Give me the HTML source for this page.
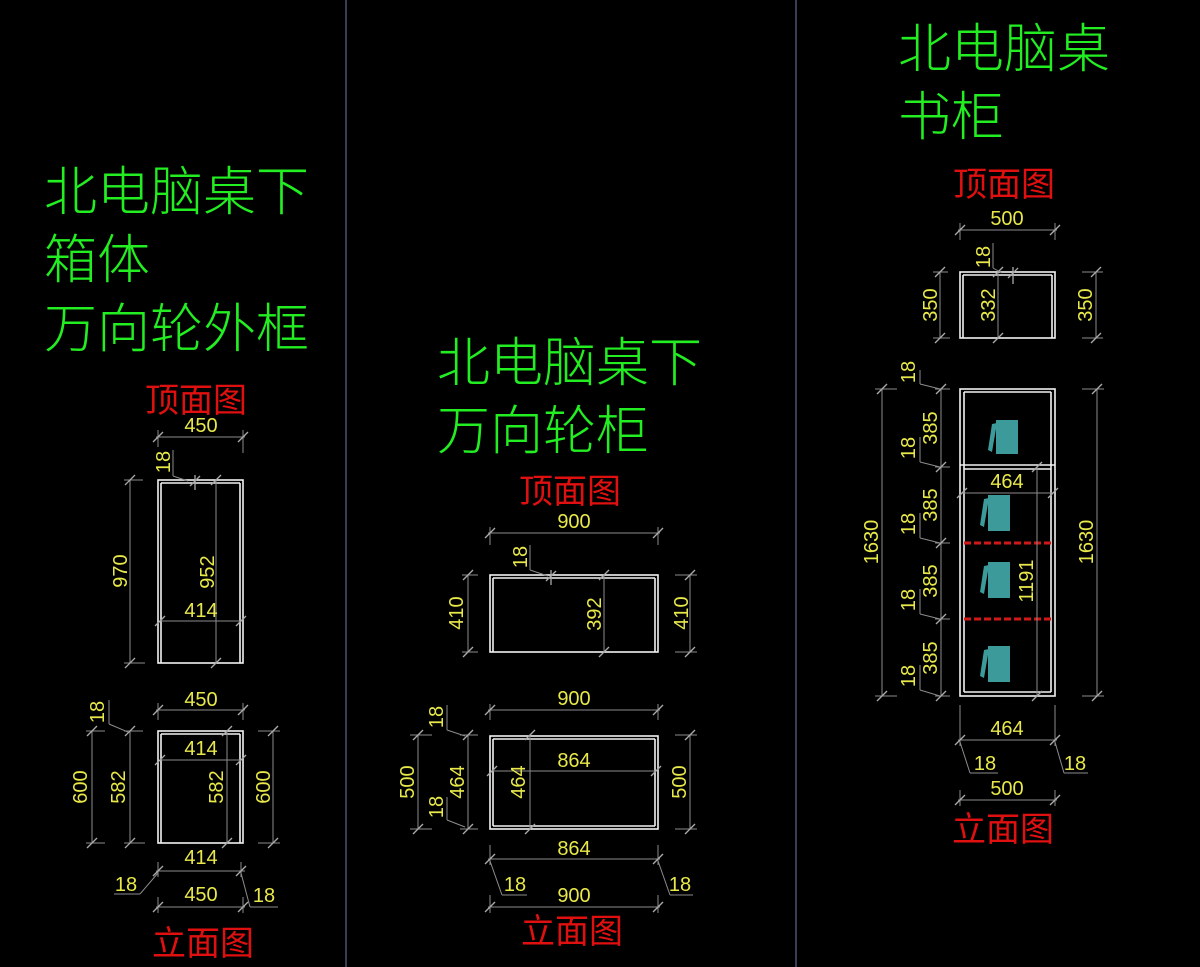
<!DOCTYPE html>
<html><head><meta charset="utf-8"><style>
html,body{margin:0;padding:0;background:#000;}
svg{display:block}
.d{stroke:#8c8c8c;stroke-width:1;fill:none}
.t{stroke:#aaa;stroke-width:1.3}
.w{stroke:#f2f2f2;stroke-width:1.6;fill:none}
.y{fill:#e8e84a;font-family:"Liberation Sans",sans-serif;font-size:20px;text-anchor:middle}
.g{fill:#22ee22;font-family:"Liberation Sans","Noto Sans CJK SC",sans-serif;font-size:53px;font-weight:300}
.r{fill:#e01010;font-family:"Liberation Sans","Noto Sans CJK SC",sans-serif;font-size:34px;text-anchor:middle}
.rd{stroke:#d01818;stroke-width:3;stroke-dasharray:7,3}
.bk{fill:#3c9a9a}
</style></head><body>
<svg width="1200" height="967" viewBox="0 0 1200 967" xmlns="http://www.w3.org/2000/svg">
<rect width="1200" height="967" fill="#000"/>
<line x1="346" y1="0" x2="346" y2="967" stroke="#4a5470" stroke-width="1.5"/>
<line x1="796" y1="0" x2="796" y2="967" stroke="#4a5470" stroke-width="1.5"/>

<!-- LEFT PANEL -->
<text class="g" x="44" y="210">北电脑桌下</text>
<text class="g" x="44" y="278">箱体</text>
<text class="g" x="44" y="347">万向轮外框</text>
<text class="r" x="196" y="412">顶面图</text>

<rect class="w" x="158" y="480" width="85" height="183"/>
<line class="w" x1="161" y1="483" x2="240" y2="483"/>
<line class="w" x1="161" y1="483" x2="161" y2="663"/>
<line class="w" x1="240" y1="483" x2="240" y2="663"/>
<g class="d">
<line x1="156" y1="437" x2="245" y2="437"/><line x1="158" y1="430" x2="158" y2="447"/><line x1="243" y1="430" x2="243" y2="453"/>
<line x1="130" y1="480" x2="130" y2="663"/><line x1="124" y1="480" x2="143" y2="480"/><line x1="124" y1="663" x2="145" y2="663"/>
<line x1="216" y1="480" x2="216" y2="663"/>
<line x1="160" y1="621" x2="241" y2="621"/>
<line x1="173" y1="450" x2="173" y2="476" /><line x1="173" y1="476" x2="188" y2="481"/>
</g>
<g class="t">
<line x1="153" y1="442" x2="163" y2="432"/><line x1="238" y1="442" x2="248" y2="432"/>
<line x1="125" y1="485" x2="135" y2="475"/><line x1="125" y1="668" x2="135" y2="658"/>
<line x1="190" y1="486" x2="200" y2="476"/><line x1="195" y1="475" x2="195" y2="490"/>
<line x1="211" y1="668" x2="221" y2="658"/><line x1="211" y1="485" x2="221" y2="475"/>
<line x1="155" y1="626" x2="165" y2="616"/><line x1="236" y1="626" x2="246" y2="616"/>
</g>
<text class="y" x="201" y="432">450</text>
<text class="y" transform="translate(127,571) rotate(-90)">970</text>
<text class="y" transform="translate(214,572) rotate(-90)">952</text>
<text class="y" x="201" y="617">414</text>
<text class="y" transform="translate(170,462) rotate(-90)">18</text>

<rect class="w" x="158" y="731" width="85" height="112"/>
<line class="w" x1="161" y1="734" x2="240" y2="734"/>
<line class="w" x1="161" y1="734" x2="161" y2="843"/>
<line class="w" x1="240" y1="734" x2="240" y2="843"/>
<g class="d">
<line x1="156" y1="710" x2="245" y2="710"/><line x1="158" y1="703" x2="158" y2="720"/><line x1="243" y1="703" x2="243" y2="720"/>
<line x1="160" y1="760" x2="241" y2="760"/>
<line x1="92" y1="731" x2="92" y2="843"/><line x1="86" y1="731" x2="105" y2="731"/><line x1="86" y1="843" x2="105" y2="843"/>
<line x1="130" y1="731" x2="130" y2="843"/><line x1="124" y1="731" x2="143" y2="731"/><line x1="124" y1="843" x2="145" y2="843"/>
<line x1="227" y1="731" x2="227" y2="843"/>
<line x1="273" y1="731" x2="273" y2="843"/><line x1="258" y1="731" x2="280" y2="731"/><line x1="258" y1="843" x2="280" y2="843"/>
<line x1="156" y1="871" x2="245" y2="871"/><line x1="158" y1="862" x2="158" y2="877"/><line x1="241" y1="862" x2="241" y2="877"/>
<line x1="156" y1="907" x2="245" y2="907"/><line x1="158" y1="897" x2="158" y2="913"/><line x1="243" y1="897" x2="243" y2="913"/>
<line x1="109" y1="700" x2="109" y2="724"/><line x1="109" y1="724" x2="128" y2="732"/>
<line x1="114" y1="894" x2="140" y2="894"/><line x1="140" y1="894" x2="158" y2="873"/>
<line x1="241" y1="873" x2="250" y2="907"/><line x1="250" y1="907" x2="278" y2="907"/>
</g>
<g class="t">
<line x1="153" y1="715" x2="163" y2="705"/><line x1="238" y1="715" x2="248" y2="705"/>
<line x1="155" y1="765" x2="165" y2="755"/><line x1="236" y1="765" x2="246" y2="755"/>
<line x1="87" y1="736" x2="97" y2="726"/><line x1="87" y1="848" x2="97" y2="838"/>
<line x1="125" y1="736" x2="135" y2="726"/><line x1="125" y1="848" x2="135" y2="838"/>
<line x1="222" y1="736" x2="232" y2="726"/><line x1="222" y1="848" x2="232" y2="838"/>
<line x1="268" y1="736" x2="278" y2="726"/><line x1="268" y1="848" x2="278" y2="838"/>
<line x1="153" y1="876" x2="163" y2="866"/><line x1="236" y1="876" x2="246" y2="866"/>
<line x1="153" y1="912" x2="163" y2="902"/><line x1="238" y1="912" x2="248" y2="902"/>
</g>
<text class="y" x="201" y="706">450</text>
<text class="y" x="201" y="755">414</text>
<text class="y" transform="translate(87,787) rotate(-90)">600</text>
<text class="y" transform="translate(125,787) rotate(-90)">582</text>
<text class="y" transform="translate(223,787) rotate(-90)">582</text>
<text class="y" transform="translate(270,787) rotate(-90)">600</text>
<text class="y" transform="translate(104,712) rotate(-90)">18</text>
<text class="y" x="201" y="864">414</text>
<text class="y" x="201" y="901">450</text>
<text class="y" x="126" y="891">18</text>
<text class="y" x="264" y="902">18</text>
<text class="r" x="203" y="955">立面图</text>

<!-- MIDDLE PANEL -->
<text class="g" x="437" y="381">北电脑桌下</text>
<text class="g" x="437" y="449">万向轮柜</text>
<text class="r" x="570" y="503">顶面图</text>

<rect class="w" x="490" y="575" width="168" height="77"/>
<line class="w" x1="493" y1="578" x2="655" y2="578"/>
<line class="w" x1="493" y1="578" x2="493" y2="652"/>
<line class="w" x1="655" y1="578" x2="655" y2="652"/>
<g class="d">
<line x1="488" y1="533" x2="660" y2="533"/><line x1="490" y1="527" x2="490" y2="545"/><line x1="658" y1="527" x2="658" y2="545"/>
<line x1="468" y1="575" x2="468" y2="652"/><line x1="462" y1="575" x2="478" y2="575"/><line x1="462" y1="652" x2="478" y2="652"/>
<line x1="604" y1="575" x2="604" y2="652"/>
<line x1="690" y1="575" x2="690" y2="652"/><line x1="675" y1="575" x2="697" y2="575"/><line x1="675" y1="652" x2="697" y2="652"/>
<line x1="530" y1="545" x2="530" y2="570"/><line x1="530" y1="570" x2="548" y2="576"/>
</g>
<g class="t">
<line x1="485" y1="538" x2="495" y2="528"/><line x1="653" y1="538" x2="663" y2="528"/>
<line x1="463" y1="580" x2="473" y2="570"/><line x1="463" y1="657" x2="473" y2="647"/>
<line x1="599" y1="580" x2="609" y2="570"/><line x1="599" y1="657" x2="609" y2="647"/>
<line x1="685" y1="580" x2="695" y2="570"/><line x1="685" y1="657" x2="695" y2="647"/>
<line x1="546" y1="581" x2="556" y2="571"/><line x1="551" y1="570" x2="551" y2="585"/>
</g>
<text class="y" x="574" y="528">900</text>
<text class="y" transform="translate(463,613) rotate(-90)">410</text>
<text class="y" transform="translate(601,614) rotate(-90)">392</text>
<text class="y" transform="translate(688,613) rotate(-90)">410</text>
<text class="y" transform="translate(527,557) rotate(-90)">18</text>

<rect class="w" x="490" y="736" width="168" height="93"/>
<line class="w" x1="493" y1="739" x2="655" y2="739"/>
<line class="w" x1="493" y1="826" x2="655" y2="826"/>
<line class="w" x1="493" y1="739" x2="493" y2="826"/>
<line class="w" x1="655" y1="739" x2="655" y2="826"/>
<g class="d">
<line x1="488" y1="710" x2="660" y2="710"/><line x1="490" y1="704" x2="490" y2="720"/><line x1="658" y1="704" x2="658" y2="720"/>
<line x1="492" y1="771" x2="656" y2="771"/>
<line x1="418" y1="735" x2="418" y2="829"/><line x1="410" y1="735" x2="432" y2="735"/><line x1="410" y1="829" x2="432" y2="829"/>
<line x1="468" y1="735" x2="468" y2="829"/><line x1="460" y1="735" x2="478" y2="735"/><line x1="460" y1="829" x2="478" y2="829"/>
<line x1="530" y1="735" x2="530" y2="829"/>
<line x1="690" y1="735" x2="690" y2="829"/><line x1="675" y1="735" x2="697" y2="735"/><line x1="675" y1="829" x2="697" y2="829"/>
<line x1="447" y1="705" x2="447" y2="730"/><line x1="447" y1="730" x2="465" y2="736"/>
<line x1="447" y1="797" x2="447" y2="820"/><line x1="447" y1="820" x2="465" y2="827"/>
<line x1="488" y1="859" x2="660" y2="859"/><line x1="490" y1="845" x2="490" y2="865"/><line x1="658" y1="845" x2="658" y2="865"/>
<line x1="488" y1="907" x2="660" y2="907"/><line x1="490" y1="895" x2="490" y2="913"/><line x1="658" y1="895" x2="658" y2="913"/>
<line x1="490" y1="861" x2="502" y2="895"/><line x1="502" y1="895" x2="527" y2="895"/>
<line x1="658" y1="861" x2="670" y2="895"/><line x1="670" y1="895" x2="693" y2="895"/>
</g>
<g class="t">
<line x1="485" y1="715" x2="495" y2="705"/><line x1="653" y1="715" x2="663" y2="705"/>
<line x1="487" y1="776" x2="497" y2="766"/><line x1="651" y1="776" x2="661" y2="766"/>
<line x1="413" y1="740" x2="423" y2="730"/><line x1="413" y1="834" x2="423" y2="824"/>
<line x1="463" y1="740" x2="473" y2="730"/><line x1="463" y1="834" x2="473" y2="824"/>
<line x1="525" y1="740" x2="535" y2="730"/><line x1="525" y1="834" x2="535" y2="824"/>
<line x1="685" y1="740" x2="695" y2="730"/><line x1="685" y1="834" x2="695" y2="824"/>
<line x1="485" y1="864" x2="495" y2="854"/><line x1="653" y1="864" x2="663" y2="854"/>
<line x1="485" y1="912" x2="495" y2="902"/><line x1="653" y1="912" x2="663" y2="902"/>
</g>
<text class="y" x="574" y="705">900</text>
<text class="y" x="574" y="767">864</text>
<text class="y" transform="translate(414,782) rotate(-90)">500</text>
<text class="y" transform="translate(464,782) rotate(-90)">464</text>
<text class="y" transform="translate(525,782) rotate(-90)">464</text>
<text class="y" transform="translate(686,782) rotate(-90)">500</text>
<text class="y" transform="translate(443,717) rotate(-90)">18</text>
<text class="y" transform="translate(443,807) rotate(-90)">18</text>
<text class="y" x="574" y="855">864</text>
<text class="y" x="574" y="902">900</text>
<text class="y" x="515" y="891">18</text>
<text class="y" x="680" y="891">18</text>
<text class="r" x="572" y="943">立面图</text>

<!-- RIGHT PANEL -->
<text class="g" x="898" y="67">北电脑桌</text>
<text class="g" x="898" y="135">书柜</text>
<text class="r" x="1004" y="196">顶面图</text>

<rect class="w" x="960" y="272" width="95" height="66"/>
<line class="w" x1="963" y1="275" x2="1052" y2="275"/>
<line class="w" x1="963" y1="275" x2="963" y2="338"/>
<line class="w" x1="1052" y1="275" x2="1052" y2="338"/>
<g class="d">
<line x1="958" y1="230" x2="1057" y2="230"/><line x1="960" y1="223" x2="960" y2="240"/><line x1="1055" y1="223" x2="1055" y2="240"/>
<line x1="940" y1="272" x2="940" y2="338"/><line x1="933" y1="272" x2="948" y2="272"/><line x1="933" y1="338" x2="950" y2="338"/>
<line x1="998" y1="272" x2="998" y2="338"/>
<line x1="1096" y1="272" x2="1096" y2="338"/><line x1="1082" y1="272" x2="1103" y2="272"/><line x1="1082" y1="338" x2="1103" y2="338"/>
<line x1="993" y1="243" x2="993" y2="268"/><line x1="993" y1="268" x2="1002" y2="273"/>
</g>
<g class="t">
<line x1="955" y1="235" x2="965" y2="225"/><line x1="1050" y1="235" x2="1060" y2="225"/>
<line x1="935" y1="277" x2="945" y2="267"/><line x1="935" y1="343" x2="945" y2="333"/>
<line x1="993" y1="277" x2="1003" y2="267"/><line x1="993" y1="343" x2="1003" y2="333"/>
<line x1="1091" y1="277" x2="1101" y2="267"/><line x1="1091" y1="343" x2="1101" y2="333"/>
<line x1="1008" y1="278" x2="1018" y2="268"/><line x1="1013" y1="267" x2="1013" y2="284"/>
</g>
<text class="y" x="1007" y="225">500</text>
<text class="y" transform="translate(937,305) rotate(-90)">350</text>
<text class="y" transform="translate(995,305) rotate(-90)">332</text>
<text class="y" transform="translate(1092,305) rotate(-90)">350</text>
<text class="y" transform="translate(990,257) rotate(-90)">18</text>

<rect class="w" x="960" y="389" width="95" height="307"/>
<line class="w" x1="964" y1="392" x2="1051" y2="392"/>
<line class="w" x1="964" y1="692" x2="1051" y2="692"/>
<line class="w" x1="964" y1="392" x2="964" y2="692"/>
<line class="w" x1="1051" y1="392" x2="1051" y2="692"/>
<line class="w" x1="960" y1="465" x2="1055" y2="465"/>
<line class="w" x1="964" y1="469" x2="1051" y2="469"/>
<line class="rd" x1="964" y1="543" x2="1051" y2="543"/>
<line class="rd" x1="964" y1="619" x2="1051" y2="619"/>
<g class="d">
<line x1="882" y1="389" x2="882" y2="696"/><line x1="875" y1="389" x2="897" y2="389"/><line x1="875" y1="696" x2="897" y2="696"/>
<line x1="941" y1="389" x2="941" y2="696"/>
<line x1="935" y1="389" x2="950" y2="389"/><line x1="935" y1="467" x2="950" y2="467"/><line x1="935" y1="543" x2="950" y2="543"/><line x1="935" y1="619" x2="950" y2="619"/><line x1="935" y1="696" x2="950" y2="696"/>
<line x1="1097" y1="389" x2="1097" y2="696"/><line x1="1082" y1="389" x2="1104" y2="389"/><line x1="1082" y1="696" x2="1104" y2="696"/>
<line x1="962" y1="493" x2="1053" y2="493"/>
<line x1="1037" y1="467" x2="1037" y2="696"/>
<line x1="920" y1="370" x2="920" y2="384"/><line x1="920" y1="384" x2="940" y2="389"/>
<line x1="920" y1="437" x2="920" y2="462"/><line x1="920" y1="462" x2="940" y2="467"/>
<line x1="920" y1="513" x2="920" y2="538"/><line x1="920" y1="538" x2="940" y2="543"/>
<line x1="920" y1="589" x2="920" y2="614"/><line x1="920" y1="614" x2="940" y2="619"/>
<line x1="920" y1="665" x2="920" y2="690"/><line x1="920" y1="690" x2="940" y2="696"/>
<line x1="958" y1="740" x2="1057" y2="740"/><line x1="960" y1="705" x2="960" y2="746"/><line x1="1055" y1="705" x2="1055" y2="746"/>
<line x1="958" y1="800" x2="1057" y2="800"/><line x1="960" y1="790" x2="960" y2="806"/><line x1="1055" y1="790" x2="1055" y2="806"/>
<line x1="960" y1="742" x2="970" y2="773"/><line x1="970" y1="773" x2="998" y2="773"/>
<line x1="1055" y1="742" x2="1064" y2="773"/><line x1="1064" y1="773" x2="1088" y2="773"/>
</g>
<g class="t">
<line x1="877" y1="394" x2="887" y2="384"/><line x1="877" y1="701" x2="887" y2="691"/>
<line x1="936" y1="394" x2="946" y2="384"/><line x1="936" y1="472" x2="946" y2="462"/><line x1="936" y1="548" x2="946" y2="538"/><line x1="936" y1="624" x2="946" y2="614"/><line x1="936" y1="701" x2="946" y2="691"/>
<line x1="1092" y1="394" x2="1102" y2="384"/><line x1="1092" y1="701" x2="1102" y2="691"/>
<line x1="957" y1="498" x2="967" y2="488"/><line x1="1048" y1="498" x2="1058" y2="488"/>
<line x1="1032" y1="472" x2="1042" y2="462"/><line x1="1032" y1="701" x2="1042" y2="691"/>
<line x1="955" y1="745" x2="965" y2="735"/><line x1="1050" y1="745" x2="1060" y2="735"/>
<line x1="955" y1="805" x2="965" y2="795"/><line x1="1050" y1="805" x2="1060" y2="795"/>
</g>
<text class="y" transform="translate(878,542) rotate(-90)">1630</text>
<text class="y" transform="translate(1093,542) rotate(-90)">1630</text>
<text class="y" transform="translate(915,372) rotate(-90)">18</text>
<text class="y" transform="translate(915,448) rotate(-90)">18</text>
<text class="y" transform="translate(937,428) rotate(-90)">385</text>
<text class="y" transform="translate(915,524) rotate(-90)">18</text>
<text class="y" transform="translate(937,505) rotate(-90)">385</text>
<text class="y" transform="translate(915,600) rotate(-90)">18</text>
<text class="y" transform="translate(937,581) rotate(-90)">385</text>
<text class="y" transform="translate(915,676) rotate(-90)">18</text>
<text class="y" transform="translate(937,658) rotate(-90)">385</text>
<text class="y" x="1007" y="488">464</text>
<text class="y" transform="translate(1033,581) rotate(-90)">1191</text>
<text class="y" x="1007" y="735">464</text>
<text class="y" x="1007" y="795">500</text>
<text class="y" x="985" y="770">18</text>
<text class="y" x="1075" y="770">18</text>
<text class="r" x="1003" y="841">立面图</text>

<g class="bk">
<g transform="translate(988,420)"><polygon points="4,4 9,3 4,32 0,30"/><rect x="8" y="0" width="22" height="34"/></g>
<g transform="translate(980,495)"><polygon points="4,4 9,3 4,32 0,30"/><rect x="8" y="0" width="22" height="36"/></g>
<g transform="translate(980,562)"><polygon points="4,4 9,3 4,32 0,30"/><rect x="8" y="0" width="22" height="36"/></g>
<g transform="translate(980,646)"><polygon points="4,4 9,3 4,32 0,30"/><rect x="8" y="0" width="22" height="36"/></g>
</g>
</svg>
</body></html>
